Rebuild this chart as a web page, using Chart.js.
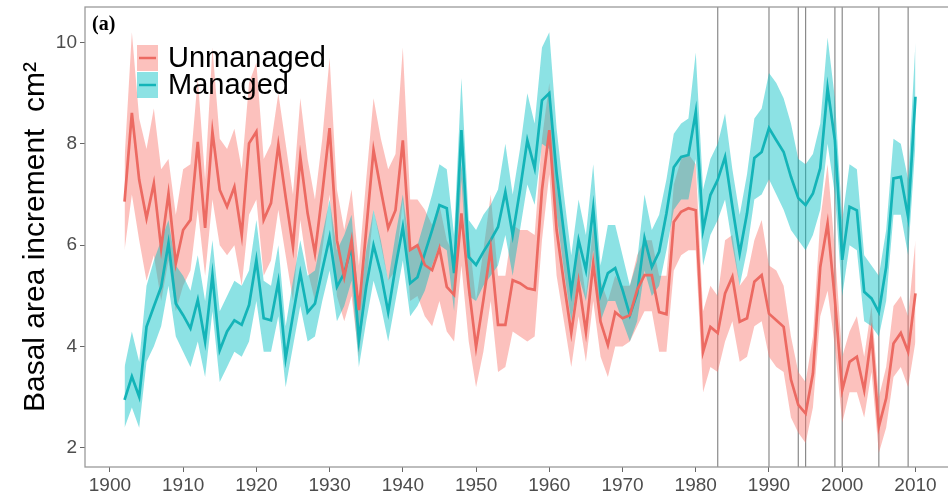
<!DOCTYPE html>
<html lang="en">
<head>
    <meta charset="UTF-8">
    <title>Basal area increment</title>
    <script src="https://cdn.jsdelivr.net/npm/chart.js@4.4.1/dist/chart.umd.min.js"></script>
    <style>
        body { margin: 0; overflow: hidden; background: #fff; }
        #wrap { width: 958px; height: 497px; position: relative; }
    </style>
</head>
<body>
<div id="wrap"><canvas id="myChart"></canvas></div>
<script>
// years 1902..2010
var years = [];
for (var yr = 1902; yr <= 2010; yr++) years.push(yr);

var unmanaged = [
    6.86, 8.61, 7.29, 6.53, 7.22, 5.94, 7.02, 5.64, 6.30, 6.50,
    8.04, 6.34, 8.24, 7.09, 6.76, 7.15, 6.20, 8.01, 8.24, 6.50,
    6.83, 7.98, 6.95, 5.97, 7.74, 6.63, 5.84, 7.02, 8.31, 6.10,
    5.37, 6.10, 4.72, 6.30, 7.88, 7.09, 6.34, 6.69, 8.07, 5.91,
    6.00, 5.61, 5.51, 5.94, 5.18, 5.02, 6.63, 5.18, 3.99, 4.92,
    5.94, 4.43, 4.43, 5.31, 5.25, 5.15, 5.12, 7.09, 8.27, 6.30,
    5.25, 4.27, 5.28, 4.29, 5.64, 4.49, 4.03, 4.68, 4.56, 4.62,
    5.12, 5.41, 5.41, 4.68, 4.64, 6.46, 6.66, 6.73, 6.69, 3.90,
    4.39, 4.27, 5.05, 5.38, 4.49, 4.56, 5.28, 5.41, 4.65, 4.52,
    4.39, 3.35, 2.85, 2.68, 3.47, 5.57, 6.43, 4.92, 3.14, 3.70,
    3.80, 3.14, 4.23, 2.42, 2.98, 4.06, 4.27, 3.90, 5.05
];
var unmanagedLo = [
    5.9, 7.0, 6.1, 5.3, 5.8, 4.9, 5.7, 4.7, 5.2, 5.5,
    6.7, 5.4, 6.9, 6.0, 5.8, 6.0, 5.2, 6.6, 6.9, 5.4,
    5.7, 6.7, 5.8, 4.9, 6.5, 5.5, 4.9, 5.9, 7.0, 5.0,
    4.5, 5.0, 3.8, 5.2, 6.7, 6.0, 5.3, 5.5, 6.9, 4.9,
    5.0, 4.6, 4.4, 4.9, 4.3, 4.1, 5.6, 4.1, 3.2, 3.9,
    4.9, 3.5, 3.6, 4.3, 4.2, 4.1, 4.2, 6.1, 7.4, 5.4,
    4.5, 3.6, 4.6, 3.7, 4.9, 3.8, 3.4, 4.0, 4.0, 4.1,
    4.4, 4.7, 4.7, 3.9, 3.9, 5.5, 5.8, 5.9, 5.9, 3.1,
    3.6, 3.5, 4.1, 4.5, 3.7, 3.8, 4.4, 4.5, 3.8, 3.6,
    3.5, 2.6, 2.3, 2.1, 2.8, 4.6, 5.1, 4.0, 2.5, 3.1,
    3.1, 2.6, 3.5, 1.9, 2.4, 3.4, 3.6, 3.2, 4.1
];
var unmanagedHi = [
    7.7, 10.2, 8.5, 7.9, 8.7, 7.5, 7.7, 6.6, 7.5, 7.6,
    9.3, 7.3, 9.9, 8.1, 7.9, 8.3, 7.5, 9.2, 9.6, 7.7,
    8.0, 9.0, 8.0, 7.0, 8.9, 7.7, 6.9, 8.1, 9.7, 7.1,
    6.3, 7.1, 5.6, 7.3, 8.9, 8.1, 7.5, 7.8, 9.9, 6.9,
    6.9, 6.7, 6.4, 6.8, 6.1, 5.8, 7.6, 6.2, 4.9, 5.9,
    7.0, 5.4, 5.4, 6.4, 6.3, 6.3, 6.2, 8.1, 9.2, 7.2,
    6.1, 5.0, 6.0, 5.0, 6.4, 5.3, 4.9, 5.4, 5.2, 5.2,
    5.8, 6.1, 6.1, 5.4, 5.4, 7.2, 7.7, 7.8, 7.6, 4.7,
    5.2, 5.0, 6.1, 6.2, 5.2, 5.4, 6.1, 6.5, 5.6, 5.5,
    5.2, 4.2, 3.5, 3.3, 4.2, 6.5, 7.6, 5.9, 3.8, 4.3,
    4.6, 3.8, 4.8, 3.0, 3.6, 4.8, 5.0, 4.6, 6.1
];

var managed = [
    2.95, 3.41, 3.01, 4.39, 4.79, 5.18, 6.04, 4.85, 4.62, 4.36,
    4.92, 4.10, 5.41, 3.93, 4.30, 4.52, 4.43, 4.82, 5.71, 4.56,
    4.52, 5.28, 3.77, 4.62, 5.45, 4.68, 4.85, 5.51, 6.16, 5.18,
    5.45, 5.97, 4.13, 5.18, 6.00, 5.45, 4.68, 5.57, 6.36, 5.25,
    5.37, 5.84, 6.30, 6.79, 6.73, 5.45, 8.27, 5.77, 5.61, 5.87,
    6.10, 6.36, 7.05, 6.20, 7.09, 8.07, 7.52, 8.86, 9.00, 7.42,
    6.24, 5.08, 6.10, 5.51, 6.73, 5.02, 5.45, 5.55, 5.12, 4.62,
    5.05, 6.14, 5.57, 5.87, 6.63, 7.54, 7.74, 7.78, 8.63, 6.30,
    6.99, 7.29, 7.74, 6.76, 5.84, 6.63, 7.72, 7.84, 8.31, 8.07,
    7.84, 7.35, 6.93, 6.79, 7.02, 7.52, 9.10, 8.07, 5.71, 6.76,
    6.69, 5.08, 4.95, 4.68, 5.57, 7.32, 7.35, 6.56, 8.93
];
var managedLo = [
    2.4, 2.8, 2.4, 3.7, 4.0, 4.4, 5.2, 4.2, 3.9, 3.6,
    4.1, 3.4, 4.7, 3.3, 3.6, 3.9, 3.8, 4.1, 4.9, 3.9,
    3.9, 4.6, 3.2, 4.0, 4.8, 4.1, 4.2, 4.9, 5.5, 4.5,
    4.8, 5.3, 3.6, 4.5, 5.3, 4.8, 4.1, 4.9, 5.7, 4.6,
    4.8, 5.1, 5.6, 6.0, 5.9, 4.7, 7.3, 5.0, 4.9, 5.2,
    5.4, 5.6, 6.2, 5.4, 6.3, 7.2, 6.8, 8.0, 7.9, 6.6,
    5.5, 4.5, 5.4, 4.9, 5.9, 4.5, 4.9, 4.9, 4.5, 4.1,
    4.5, 5.5, 5.0, 5.2, 5.9, 6.7, 6.9, 6.9, 7.7, 5.6,
    6.2, 6.5, 6.9, 6.0, 5.2, 5.9, 6.9, 7.0, 7.3, 7.0,
    6.7, 6.3, 6.1, 5.9, 6.2, 6.7, 8.0, 7.0, 5.0, 6.0,
    5.9, 4.5, 4.4, 4.2, 4.9, 6.6, 6.6, 5.8, 8.0
];
var managedHi = [
    3.6, 4.3, 3.7, 5.2, 5.7, 6.1, 6.5, 5.6, 5.4, 5.1,
    5.8, 4.9, 6.1, 4.7, 5.0, 5.3, 5.2, 5.5, 6.5, 5.3,
    5.2, 6.0, 4.4, 5.3, 6.1, 5.4, 5.5, 6.2, 6.9, 5.9,
    6.2, 6.6, 4.8, 5.9, 6.7, 6.1, 5.3, 6.2, 7.0, 5.9,
    6.0, 6.5, 7.0, 7.6, 7.5, 6.2, 9.3, 6.5, 6.3, 6.6,
    6.8, 7.1, 8.0, 7.0, 7.9, 9.0, 8.4, 9.9, 10.2, 8.3,
    7.0, 5.8, 6.9, 6.2, 7.6, 5.6, 6.4, 6.4, 5.8, 5.2,
    5.7, 7.0, 6.3, 6.6, 7.3, 8.2, 8.4, 8.5, 9.8, 7.1,
    7.7, 8.0, 8.6, 7.5, 6.6, 7.4, 8.5, 8.7, 9.4, 9.2,
    8.9, 8.4, 7.7, 7.6, 7.8, 8.4, 10.1, 8.9, 6.5, 7.6,
    7.5, 5.8, 5.6, 5.4, 6.3, 8.1, 8.0, 7.3, 10.0
];

// grey vertical marker years
var eventYears = [1983, 1990, 1994, 1995, 1999, 2000, 2005, 2009];

var xTicks = [1900, 1910, 1920, 1930, 1940, 1950, 1960, 1970, 1980, 1990, 2000, 2010];
var yTicks = [2, 4, 6, 8, 10];

var redLine = '#EC6A62', redFill = 'rgba(248,118,109,0.45)';
var tealLine = '#14B4B8', tealFill = 'rgba(0,191,196,0.45)';

function pts(vals) {
    return vals.map(function(v, i) { return { x: years[i], y: v }; });
}

function band(vals, fill, order) {
    return {
        data: pts(vals),
        borderColor: 'transparent',
        borderWidth: 0,
        pointRadius: 0,
        backgroundColor: fill,
        fill: fill ? '-1' : false,
        tension: 0,
        order: order
    };
}

var extras = {
    id: 'extras',
    beforeDatasetsDraw: function(chart) {
        var ctx = chart.ctx, a = chart.chartArea, x = chart.scales.x;
        ctx.save();
        ctx.strokeStyle = '#8a8a8a';
        ctx.lineWidth = 1.2;
        eventYears.forEach(function(yv) {
            var px = x.getPixelForValue(yv);
            ctx.beginPath();
            ctx.moveTo(px, a.top);
            ctx.lineTo(px, a.bottom);
            ctx.stroke();
        });
        ctx.restore();
    },
    afterDraw: function(chart) {
        var ctx = chart.ctx, a = chart.chartArea;
        ctx.save();
        // panel border
        ctx.strokeStyle = '#9a9a9a';
        ctx.lineWidth = 1.3;
        ctx.strokeRect(a.left, a.top, a.right - a.left, a.bottom - a.top);

        // panel tag
        ctx.fillStyle = '#000';
        ctx.font = 'bold 20px "Liberation Serif"';
        ctx.textBaseline = 'middle';
        ctx.fillText('(a)', a.left + 7, 25);

        // legend
        var keys = [
            { text: 'Unmanaged', fill: redFill, line: redLine, y: 58 },
            { text: 'Managed', fill: tealFill, line: tealLine, y: 85 }
        ];
        keys.forEach(function(k) {
            ctx.fillStyle = k.fill;
            ctx.fillRect(137, k.y - 13, 21, 26);
            ctx.strokeStyle = k.line;
            ctx.lineWidth = 2.5;
            ctx.beginPath();
            ctx.moveTo(139, k.y);
            ctx.lineTo(156, k.y);
            ctx.stroke();
            ctx.fillStyle = '#000';
            ctx.font = '29px "Liberation Sans"';
            ctx.fillText(k.text, 168, k.y + 1);
        });
        ctx.restore();
    }
};

var ctx = document.getElementById('myChart').getContext('2d');
var chart = new Chart(ctx, {
    type: 'line',
    data: {
        datasets: [
            { label: 'Unmanaged', data: pts(unmanaged), borderColor: redLine, borderWidth: 2.7,
              pointRadius: 0, fill: false, tension: 0, order: 0 },
            { label: 'Managed', data: pts(managed), borderColor: tealLine, borderWidth: 2.7,
              pointRadius: 0, fill: false, tension: 0, order: 0 },
            band(unmanagedLo, null, 2),
            band(unmanagedHi, redFill, 2),
            band(managedLo, null, 1),
            band(managedHi, tealFill, 1)
        ]
    },
    options: {
        responsive: true,
        maintainAspectRatio: false,
        animation: false,
        layout: { padding: { top: 7, right: 3, left: 0, bottom: 0 } },
        plugins: { legend: { display: false }, tooltip: { enabled: false } },
        scales: {
            x: {
                type: 'linear',
                min: 1896.6,
                max: 2015.4,
                afterBuildTicks: function(s) { s.ticks = xTicks.map(function(v) { return { value: v }; }); },
                afterFit: function(s) { s.height = 30; s.paddingLeft = 0; s.paddingRight = 0; },
                grid: { drawOnChartArea: false, tickLength: 5, color: '#666' },
                border: { display: false },
                ticks: {
                    padding: 2,
                    color: '#4d4d4d',
                    font: { family: 'Liberation Sans', size: 19 },
                    maxRotation: 0,
                    callback: function(v) { return String(v); }
                }
            },
            y: {
                min: 1.625,
                max: 10.7,
                afterBuildTicks: function(s) { s.ticks = yTicks.map(function(v) { return { value: v }; }); },
                afterFit: function(s) { s.width = 85; s.paddingTop = 0; s.paddingBottom = 0; },
                grid: { drawOnChartArea: false, tickLength: 5, color: '#666' },
                border: { display: false },
                ticks: {
                    padding: 3,
                    color: '#4d4d4d',
                    font: { family: 'Liberation Sans', size: 19 },
                    callback: function(v) { return String(v); }
                },
                title: {
                    display: true,
                    text: 'Basal area increment  cm²',
                    color: '#000',
                    font: { family: 'Liberation Sans', size: 30 },
                    padding: { top: 18, bottom: 0 }
                }
            }
        }
    },
    plugins: [extras]
});
</script>
</body>
</html>
